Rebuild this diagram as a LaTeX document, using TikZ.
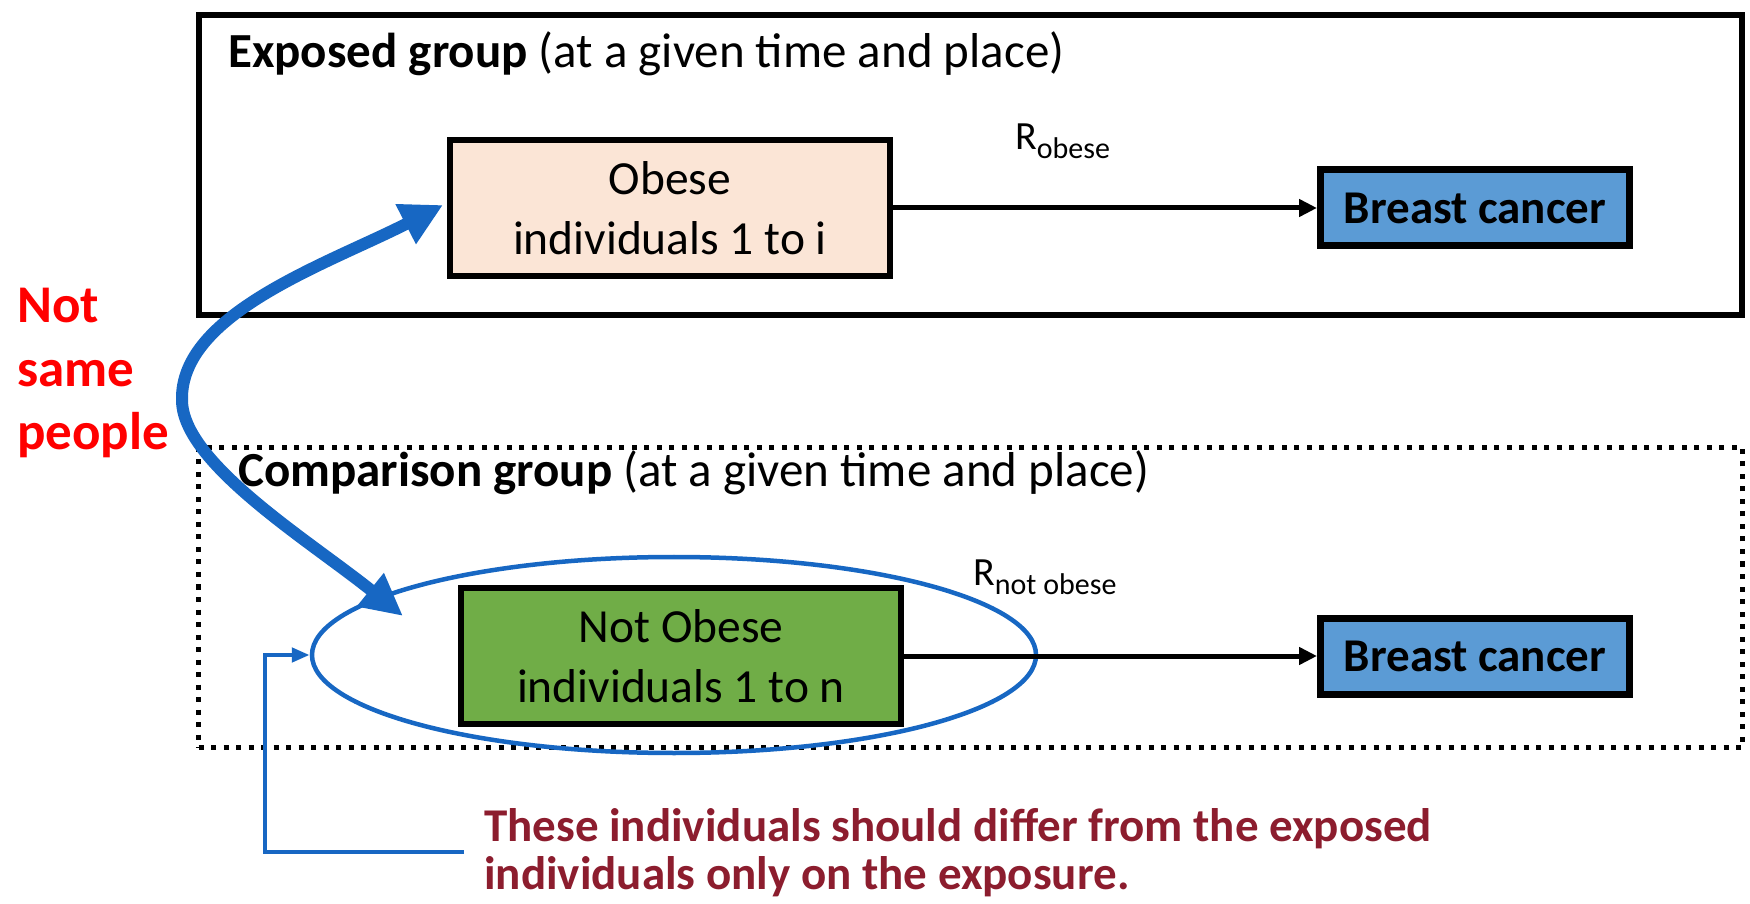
\documentclass[tikz,border=0pt]{standalone}
\usepackage{fontspec}
\setmainfont{Carlito}
\usetikzlibrary{arrows.meta,shapes.geometric,calc}
\definecolor{peach}{HTML}{FBE5D6}
\definecolor{leaf}{HTML}{70AD47}
\definecolor{sky}{HTML}{5B9BD5}
\definecolor{arrblue}{HTML}{1767C3}
\definecolor{brightred}{HTML}{FF0000}
\definecolor{wine}{HTML}{8C1D2E}
\newcommand{\fsz}[2]{\fontsize{#1}{#2}\selectfont}
\tikzset{
  grpbox/.style={draw=black, line width=6pt, minimum width=1543pt, minimum height=300pt, inner sep=0pt},
  dotgrp/.style={draw=black, line width=5pt, dash pattern=on 5pt off 7.5pt, minimum width=1544pt, minimum height=300pt, inner sep=0pt},
  popbox/.style={draw=black, line width=6pt, minimum width=440pt, minimum height=136pt, align=center, inner sep=0pt, font=\fsz{47.5}{60}},
  outbox/.style={draw=black, line width=7pt, fill=sky, minimum width=309pt, minimum height=76pt, inner sep=0pt, font=\fsz{47}{55}\bfseries},
  hdr/.style={anchor=base west, inner sep=0pt, font=\fsz{49}{58}},
  rlabel/.style={anchor=base west, inner sep=0pt, font=\fsz{40}{48}},
  conn/.style={draw=black, line width=5pt, -{Triangle[length=18pt,width=17pt]}},
  ring/.style={draw=arrblue, line width=4.5pt, ellipse, minimum width=724pt, minimum height=196pt, inner sep=0pt},
  bigarrow/.style={draw=arrblue, line width=12pt, {Triangle[length=42pt,width=42pt]}-{Triangle[length=42pt,width=40pt]}},
  bracket/.style={draw=arrblue, line width=4.5pt, -{Triangle[length=18pt,width=14pt]}},
}
\begin{document}
\begin{tikzpicture}[x=1pt,y=1pt]
\useasboundingbox (0,0) rectangle (1750,903);
\fill[white] (0,0) rectangle (1750,903);

% group frames
\node[grpbox] (expgrp) at (970.5,738) {};
\node[dotgrp] (cmpgrp) at (970.5,305.5) {};

% headers
\node[hdr] (hdrexp) at (228,835) {\textbf{Exposed group} (at a given time and place)};
\node[hdr] (hdrcmp) at (238,416) {\textbf{Comparison group} (at a given time and place)};

% exposed row
\node[popbox, fill=peach] (obese) at (670,695) {Obese\\individuals 1 to i};
\node[outbox] (bc1) at (1475,695) {Breast cancer};
\draw[conn] (obese) -- (bc1);
\node[rlabel] (robese) at (1015,753) {R\raisebox{-9pt}{\fsz{30}{36}obese}};

% comparison row
\node[popbox, fill=leaf] (notobese) at (681,247) {Not Obese\\individuals 1 to n};
\node[outbox] (bc2) at (1475,247) {Breast cancer};
\node[ring] (ell) at (674,248) {};
\draw[conn] (notobese) -- (bc2);
\node[rlabel] (rnot) at (973,318) {R\raisebox{-9pt}{\fsz{30}{36}not obese}};

% left label (base = last line)
\node[anchor=base west, inner sep=0pt, align=left, text=brightred, font=\fsz{53}{63.5}\bfseries] (nsp) at (17,453) {Not\\same\\people};

% bottom note (base = last line)
\node[anchor=base west, inner sep=0pt, align=left, text=wine, font=\fsz{47}{48}\bfseries] (note) at (484,14) {These individuals should differ from the exposed\\individuals only on the exposure.};

% bracket
\coordinate (bkend) at (464,51);
\coordinate (bkcorner) at (265,51);
\draw[bracket] (bkend) -- (bkcorner) |- (ell.west);

% big double arrow
\coordinate (tipA) at (443,698);
\coordinate (bend) at (182,503);
\coordinate (tipB) at (403,287);
\draw[bigarrow] (tipA) .. controls (330,640) and (180,590) .. (bend)
  .. controls (182,440) and (310,362) .. (tipB);
\end{tikzpicture}
\end{document}
